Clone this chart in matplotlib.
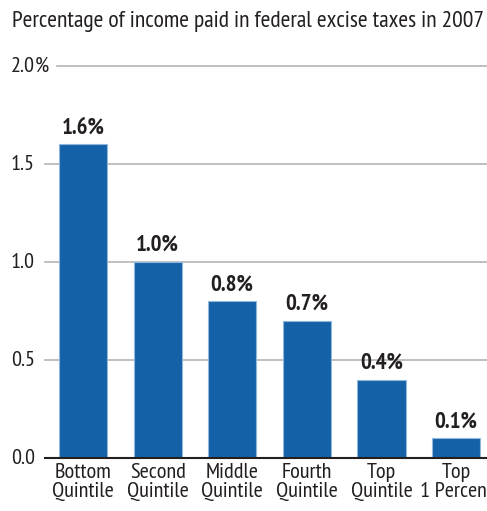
import matplotlib.pyplot as plt

# Income groups and excise-tax share of income (percent)
groups = ['Bottom\nQuintile', 'Second\nQuintile', 'Middle\nQuintile',
          'Fourth\nQuintile', 'Top\nQuintile', 'Top\n1 Percent']
values = [1.6, 1.0, 0.8, 0.7, 0.4, 0.1]
value_labels = ['1.6%', '1.0%', '0.8%', '0.7%', '0.4%', '0.1%']
y_ticks = [0.0, 0.5, 1.0, 1.5, 2.0]
y_tick_labels = ['0.0', '0.5', '1.0', '1.5', '2.0']

plt.rcParams['font.family'] = ['PT Sans Narrow', 'Open Sans Condensed', 'DejaVu Sans']

BAR_COLOR = '#1561a7'
TEXT = '#231f20'
W, H = 487, 511

fig = plt.figure(figsize=(W / 100, H / 100), dpi=100)
ax = fig.add_axes([45 / W, 53 / H, (W - 45) / W, (458 - 66) / H])
ax.set_xlim(-0.51, 5.415)
ax.set_ylim(0, 2.0)
ax.axis('off')

# gridlines, starting just right of their labels
ytf = ax.get_yaxis_transform()
for v in y_ticks[1:]:
    x0 = 12 / (W - 45) if v == 2.0 else 0.0
    ax.plot([x0, 1], [v, v], color='#b4b4b4', lw=1.2, transform=ytf,
            clip_on=False, zorder=0)

# tick labels (the % hangs past the right edge of the numbers)
for v, lab in zip(y_ticks, y_tick_labels):
    ax.text(-10 / (W - 45), v, lab, transform=ytf, ha='right', va='center',
            fontsize=16, color=TEXT)
ax.text(-10 / (W - 45), 2.0, '%', transform=ytf, ha='left', va='center',
        fontsize=16, color=TEXT)

xs = range(len(values))
ax.bar(xs, values, width=0.645, color=BAR_COLOR, edgecolor='#8fb8dc',
       linewidth=0.8, zorder=2)
ax.plot([0, 1], [0, 0], color=TEXT, lw=1.5, transform=ytf,
        clip_on=False, zorder=3)

for x, v, lab in zip(xs, values, value_labels):
    ax.text(x, v + 0.03, lab, ha='center', va='bottom', fontsize=16.5,
            fontweight='bold', color=TEXT)

for x, g in zip(xs, groups):
    ax.text(x, -0.025, g, ha='center', va='top', fontsize=16,
            color=TEXT, linespacing=1.0)

fig.text(12 / W, 1 - 22 / H, 'Percentage of income paid in federal excise taxes in 2007',
         ha='left', va='center', fontsize=17, color=TEXT)

fig.savefig('out.png', dpi=100)
